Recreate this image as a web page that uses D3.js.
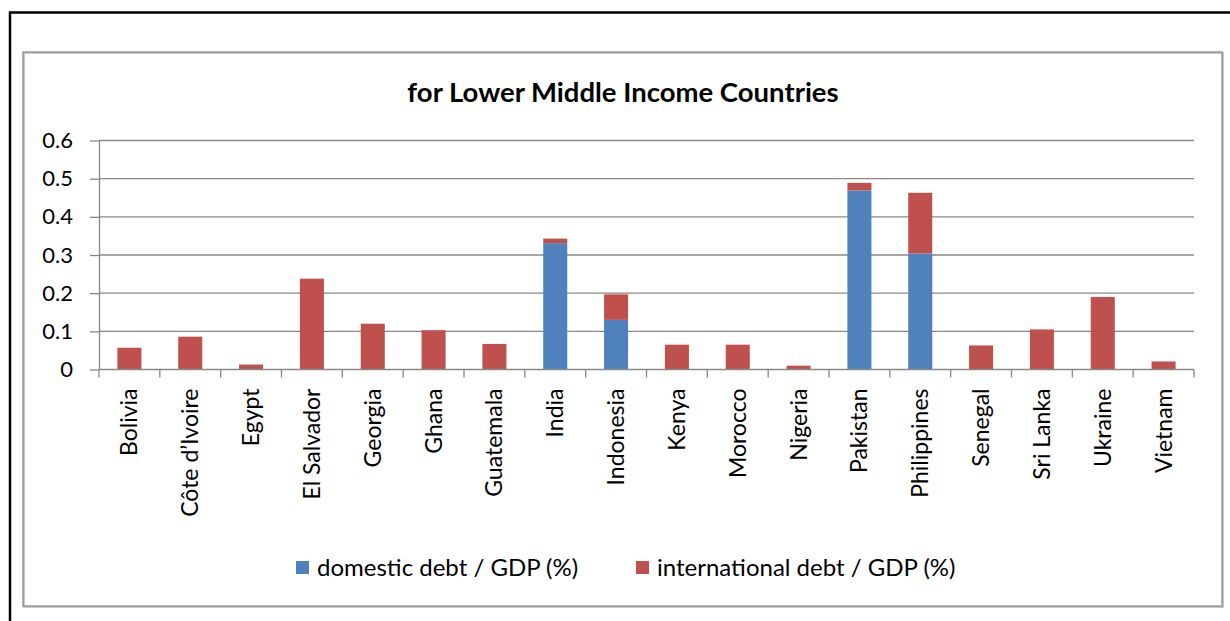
<!DOCTYPE html>
<html>
<head>
<meta charset="utf-8">
<script src="https://cdn.jsdelivr.net/npm/d3@7"></script>
<style>
  body { margin: 0; background: #fff; }
  text { font-family: Lato, "Liberation Sans", sans-serif; fill: #000; }
</style>
</head>
<body>
<div id="chart"></div>
<script>
// values
var countries = ["Bolivia", "Côte d’Ivoire", "Egypt", "El Salvador", "Georgia", "Ghana",
  "Guatemala", "India", "Indonesia", "Kenya", "Morocco", "Nigeria", "Pakistan",
  "Philippines", "Senegal", "Sri Lanka", "Ukraine", "Vietnam"];
var domestic = [0, 0, 0, 0, 0, 0, 0, 0.331, 0.130, 0, 0, 0, 0.469, 0.304, 0, 0, 0, 0];
var international = [0.057, 0.086, 0.013, 0.238, 0.120, 0.103, 0.067, 0.012, 0.067, 0.065,
  0.065, 0.010, 0.020, 0.159, 0.063, 0.105, 0.190, 0.021];
var yTicks = [0, 0.1, 0.2, 0.3, 0.4, 0.5, 0.6];
var seriesNames = ["domestic debt / GDP (%)", "international debt / GDP (%)"];
var colors = ["#4F81BD", "#C0504D"];

var width = 1230, height = 621;
var margin = {top: 140.5, right: 36, bottom: 251.5, left: 99};

var svg = d3.select("#chart").append("svg")
  .attr("width", width)
  .attr("height", height);

// outer black frame (left and top only visible)
svg.append("path")
  .attr("d", "M10,621 V12.5 H1230")
  .attr("fill", "none")
  .attr("stroke", "#000")
  .attr("stroke-width", 2.5);

// chart area frame
svg.append("rect")
  .attr("x", 24).attr("y", 53)
  .attr("width", 1199).attr("height", 554)
  .attr("fill", "none")
  .attr("stroke", "#c8c8c8")
  .attr("stroke-width", 2);
svg.append("rect")
  .attr("x", 23).attr("y", 52)
  .attr("width", 1199).attr("height", 554)
  .attr("fill", "none")
  .attr("stroke", "#8a8a8a")
  .attr("stroke-width", 1.3);

var xScale = d3.scaleBand()
  .domain(countries)
  .range([margin.left, width - margin.right])
  .paddingInner(0.605)
  .paddingOuter(0.3025);

var xTickScale = d3.scaleBand()
  .domain(countries)
  .range([margin.left, width - margin.right]);

var yScale = d3.scaleLinear()
  .domain([0, 0.6])
  .range([height - margin.bottom, margin.top]);

// gridlines
svg.append("g")
  .selectAll("line")
  .data(yTicks.slice(1))
  .join("line")
  .attr("x1", margin.left)
  .attr("x2", width - margin.right)
  .attr("y1", d => yScale(d))
  .attr("y2", d => yScale(d))
  .attr("stroke", "#888")
  .attr("stroke-width", 1.3);

// stacked bars
var rows = countries.map((c, i) => ({country: c, domestic: domestic[i], international: international[i]}));
var stack = d3.stack().keys(["domestic", "international"])(rows);

svg.append("g")
  .selectAll("g")
  .data(stack)
  .join("g")
  .attr("fill", (d, i) => colors[i])
  .selectAll("rect")
  .data(d => d.filter(p => p[1] - p[0] > 0))
  .join("rect")
  .attr("x", d => xScale(d.data.country))
  .attr("width", xScale.bandwidth())
  .attr("y", d => yScale(d[1]))
  .attr("height", d => yScale(d[0]) - yScale(d[1]));

// y axis
var yAxis = svg.append("g")
  .attr("transform", `translate(${margin.left},0)`)
  .call(d3.axisLeft(yScale).tickValues(yTicks).tickSize(9).tickSizeOuter(0)
    .tickFormat(d => d === 0 ? "0" : d3.format(".1f")(d)));
yAxis.select(".domain").attr("stroke", "#888").attr("stroke-width", 1.3);
yAxis.selectAll(".tick line").attr("stroke", "#888").attr("stroke-width", 1.3);
yAxis.selectAll(".tick text")
  .attr("x", -26)
  .attr("font-size", 22)
  .attr("font-family", "Lato, sans-serif")
  .attr("fill", "#000");

// x axis with ticks on category boundaries
var xAxisG = svg.append("g")
  .attr("transform", `translate(0,${yScale(0)})`);
xAxisG.append("line")
  .attr("x1", margin.left).attr("x2", width - margin.right)
  .attr("stroke", "#888").attr("stroke-width", 1.3);
xAxisG.selectAll(".bt")
  .data(countries.concat(["end"]))
  .join("line")
  .attr("class", "bt")
  .attr("x1", (d, i) => i < countries.length ? xTickScale(d) : width - margin.right)
  .attr("x2", (d, i) => i < countries.length ? xTickScale(d) : width - margin.right)
  .attr("y1", 0).attr("y2", 8)
  .attr("stroke", "#888").attr("stroke-width", 1.3);
xAxisG.selectAll(".lbl")
  .data(countries)
  .join("text")
  .attr("class", "lbl")
  .attr("text-anchor", "end")
  .attr("font-size", 23)
  .attr("transform", d => `translate(${xTickScale(d) + xTickScale.bandwidth() / 2 + 8},19) rotate(-90)`)
  .text(d => d);

// title
svg.append("text")
  .attr("x", 623)
  .attr("y", 102)
  .attr("text-anchor", "middle")
  .attr("font-weight", "bold")
  .attr("font-size", 27.5)
  .text("for Lower Middle Income Countries");

// legend
var legendX = [296, 636];
var legend = svg.append("g").selectAll("g")
  .data(seriesNames)
  .join("g")
  .attr("transform", (d, i) => `translate(${legendX[i]},561)`);
legend.append("rect")
  .attr("width", 13).attr("height", 13)
  .attr("fill", (d, i) => colors[i]);
legend.append("text")
  .attr("x", 21)
  .attr("y", 15)
  .attr("font-size", 24)
  .text(d => d);
</script>
</body>
</html>
